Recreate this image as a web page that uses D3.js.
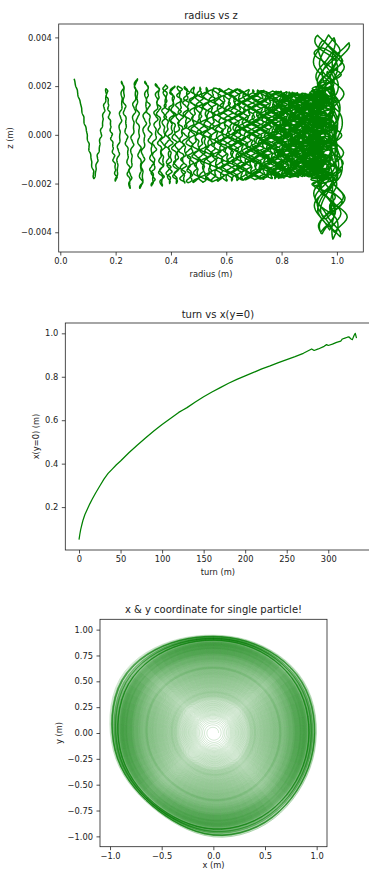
<!DOCTYPE html>
<html><head><meta charset="utf-8">
<script src="https://cdn.jsdelivr.net/npm/d3@7"></script>
<style>
body{margin:0;background:#fff}
svg{display:block}
text{font-family:"DejaVu Sans",sans-serif;fill:#222}
</style>
</head><body>
<svg id="c" width="369" height="870"></svg>
<script>
// ---------- data ----------
// turn vs x(y=0): radius where the particle crosses y=0, per turn
const turnNums = [0,1,2,3,4,5,7,10,13,16,20,25,30,35,40,45,50,60,70,80,90,100,110,120,125,130,140,150,160,170,180,190,200,210,220,230,240,250,260,270,280,283,288,295,298,300,305,310,315,317,320,323,325,327,329,331,332.5,334];
const xAtY0 = [0.05,0.075,0.096,0.112,0.128,0.142,0.165,0.19,0.215,0.237,0.265,0.297,0.329,0.355,0.375,0.395,0.412,0.45,0.485,0.518,0.55,0.58,0.608,0.636,0.647,0.658,0.684,0.708,0.73,0.75,0.77,0.788,0.804,0.82,0.836,0.85,0.865,0.879,0.893,0.908,0.928,0.921,0.928,0.94,0.948,0.944,0.95,0.958,0.964,0.974,0.978,0.982,0.984,0.975,0.971,0.99,1.0,0.978];

// shape of the outer orbit (x & y plot): radius at each angle (degrees, counter-clockwise from +x)
const orbitAngles = [0,15,30,45,60,75,90,105,120,135,150,165,180,195,210,225,240,255,270,285,300,315,330,345];
const orbitShape  = [0.985,0.995,1.0,0.98,0.955,0.94,0.93,0.945,0.975,1.015,1.04,1.01,0.98,0.965,0.935,0.915,0.92,0.955,1.0,1.01,1.01,0.995,0.985,0.985];
// how strongly the orbit departs from a circle, by radius
const ncRadius = [0, 0.3, 0.6, 0.85, 0.93, 0.97, 1.0];
const ncFactor = [0.4, 0.4, 0.45, 0.5, 0.55, 0.85, 1.0];

// vertical (z) extremes of the radius vs z trace: turn at which they occur and value (m)
const zPeakTurns = [0,3.7,7.3,11.6,14.6,18.1,21.4,24.6,27.6,31.2,34.6,38.1,41.5,45,48.4,51.9,55.3,58.8,62.2,65.7,69.1,72.6,76,79.5,82.9,86.4,89.8,93.3,96.7,100.2,103.6,107.1,110.5,114,117.4,120.9,124.3,127.8,131.2,134.7,138.1,141.6,145,148.5,151.9,155.4,158.8,162.3,165.7,169.2,172.6,176.1,179.5,183,186.4,189.9,193.3,196.8,200.2,203.7,207.1,210.6,214,217.5,220.9,224.4,227.8,231.3,234.7,238.2,241.6,245.1,248.5,252,255.4,258.9,262.3,265.8,269.2,272.7,276.1,279.6,283,286.5,289.9,293.3,296.7,300.1,303.4,306.7,309.8,312.6,315,317,318.7,320.2,321.6,322.9,324.1,325.2,326.3,327.4,328.5,329.5,330.5,331.5,332.4,333.3,334];
const zPeaks = [0.0023,-0.0018,0.0019,-0.0019,0.0022,-0.0022,0.0023,-0.0022,0.0022,-0.0021,0.0021,-0.0021,0.00205,-0.002,0.002,-0.002,0.002,-0.00198,0.00198,-0.00197,0.00196,-0.00196,0.00195,-0.00195,0.00194,-0.00193,0.00193,-0.00192,0.00192,-0.00191,0.0019,-0.0019,0.0019,-0.00189,0.00189,-0.00188,0.00188,-0.00187,0.00187,-0.00186,0.00186,-0.00185,0.00185,-0.00184,0.00184,-0.00183,0.00183,-0.00182,0.00182,-0.00181,0.00181,-0.0018,0.0018,-0.0018,0.00179,-0.00179,0.00179,-0.00178,0.00178,-0.00177,0.00177,-0.00176,0.00176,-0.00175,0.00175,-0.00174,0.00174,-0.00173,0.00173,-0.00172,0.00172,-0.00171,0.00171,-0.0017,0.0017,-0.0017,0.0017,-0.0017,0.0017,-0.0017,0.0017,-0.00172,0.00175,-0.0018,0.0018,-0.0018,0.0018,-0.0018,0.0019,-0.0019,0.002,-0.0021,0.0026,-0.0031,0.0036,-0.004,0.0041,-0.0043,0.004,-0.0041,0.0039,-0.0042,0.0041,-0.0039,0.0034,-0.004,0.0038,-0.0035,0.002];

// tick labels
const rTicks = [0,0.2,0.4,0.6,0.8,1.0];
const zTicks = [-0.004,-0.002,0,0.002,0.004];
const turnTicks = [0,50,100,150,200,250,300];
const xy0Ticks = [0.2,0.4,0.6,0.8,1.0];
const xTicks3 = [-1,-0.5,0,0.5,1];
const yTicks3 = [-1,-0.75,-0.5,-0.25,0,0.25,0.5,0.75,1];

// ---------- trajectory built from the arrays above ----------
const SPT = 72;
const tEnd = turnNums[turnNums.length-1];
const Rof = d3.scaleLinear().domain(turnNums).range(xAtY0);
const kOf = d3.scaleLinear().domain(ncRadius).range(ncFactor).clamp(true);
const shapeFn = d3.interpolateBasisClosed(orbitShape.map(v => v/orbitShape[0]));
const zOf = d3.scaleLinear().domain(zPeakTurns).range(zPeaks).clamp(true);
const traj = d3.range(0, Math.round(tEnd*SPT)+1).map(s => {
  const t = s/SPT, frac = t - Math.floor(t);
  const R = Rof(t), k = kOf(R);
  return {t, ang: frac*2*Math.PI, r: R*(1 + k*(shapeFn(frac)-1)), z: zOf(t)};
});

const svg = d3.select("#c");
const GREEN = "#008000";
function styleAxis(g){
  g.select(".domain").remove();
  g.selectAll(".tick line").attr("stroke","#222").attr("stroke-width",0.8);
  g.selectAll(".tick text").attr("font-size","8.3px").attr("fill","#222").attr("font-family","DejaVu Sans, sans-serif");
}
function frame(x0,y0,x1,y1){
  svg.append("rect").attr("x",x0).attr("y",y0).attr("width",x1-x0).attr("height",y1-y0)
    .attr("fill","none").attr("stroke","#222").attr("stroke-width",0.8);
}
function clip(id,x0,y0,x1,y1){
  svg.append("clipPath").attr("id",id).append("rect").attr("x",x0).attr("y",y0).attr("width",x1-x0).attr("height",y1-y0);
}
function title(t,cx,y){ svg.append("text").attr("x",cx).attr("y",y).attr("text-anchor","middle").attr("font-size","10px").text(t); }
function xlabel(t,cx,y){ svg.append("text").attr("x",cx).attr("y",y).attr("text-anchor","middle").attr("font-size","8.3px").text(t); }
function ylabel(t,x,cy){ svg.append("text").attr("transform",`translate(${x},${cy}) rotate(-90)`).attr("text-anchor","middle").attr("font-size","8.3px").text(t); }

// ---------- chart 1: radius vs z ----------
{
  const L=58.7,R=363.3,T=24,B=252;
  const x = d3.scaleLinear().domain([-0.0058,1.0954]).range([L,R]);
  const y = d3.scaleLinear().domain([-0.00481,0.00455]).range([B,T]);
  clip("c1",L,T,R,B);
  svg.append("path").datum(traj).attr("clip-path","url(#c1)")
    .attr("d", d3.line().x(d=>x(d.r)).y(d=>y(d.z)))
    .attr("fill","none").attr("stroke",GREEN).attr("stroke-width",1.5).attr("stroke-linejoin","round");
  frame(L,T,R,B);
  svg.append("g").attr("transform",`translate(0,${B})`).call(d3.axisBottom(x).tickValues(rTicks).tickFormat(d3.format(".1f")).tickSize(3.5).tickPadding(3)).call(styleAxis);
  svg.append("g").attr("transform",`translate(${L},0)`).call(d3.axisLeft(y).tickValues(zTicks).tickFormat(d3.format(".3f")).tickSize(3.5).tickPadding(3.5)).call(styleAxis);
  title("radius vs z",(L+R)/2,19);
  xlabel("radius (m)",(L+R)/2,277);
  ylabel("z (m)",13,(T+B)/2);
}

// ---------- chart 2: turn vs x(y=0) ----------
{
  const L=65.3,R=370.4,T=323,B=550;
  const x = d3.scaleLinear().domain([-16.5,350.7]).range([L,R]);
  const y = d3.scaleLinear().domain([0.0025,1.0475]).range([B,T]);
  const pts = turnNums.map((t,i)=>({t, v:xAtY0[i]}));
  svg.append("path").datum(pts)
    .attr("d", d3.line().x(d=>x(d.t)).y(d=>y(d.v)))
    .attr("fill","none").attr("stroke",GREEN).attr("stroke-width",1.25).attr("stroke-linejoin","round");
  frame(L,T,R,B);
  svg.append("g").attr("transform",`translate(0,${B})`).call(d3.axisBottom(x).tickValues(turnTicks).tickFormat(d3.format("d")).tickSize(3.5).tickPadding(3)).call(styleAxis);
  svg.append("g").attr("transform",`translate(${L},0)`).call(d3.axisLeft(y).tickValues(xy0Ticks).tickFormat(d3.format(".1f")).tickSize(3.5).tickPadding(3.5)).call(styleAxis);
  title("turn vs x(y=0)",(L+R)/2,318);
  xlabel("turn (m)",(L+R)/2,575);
  ylabel("x(y=0) (m)",39,(T+B)/2);
}

// ---------- chart 3: x & y coordinate ----------
{
  const L=100,R=327,T=619.3,B=846.7;
  const x = d3.scaleLinear().domain([-1.097,1.1]).range([L,R]);
  const y = d3.scaleLinear().domain([-1.1,1.1]).range([B,T]);
  clip("c3",L,T,R,B);
  const turns = d3.range(0, Math.ceil(tEnd)).map(n => traj.slice(n*SPT, (n+1)*SPT+1));
  const radial = d3.lineRadial().angle(d => Math.PI/2 - d.ang).radius(d => x(d.r) - x(0));
  const g = svg.append("g").attr("clip-path","url(#c3)").append("g").attr("transform",`translate(${x(0)},${y(0)})`);
  g.selectAll("path").data(turns).join("path")
    .attr("d", radial)
    .attr("fill","none").attr("stroke",GREEN).attr("stroke-width",0.8).attr("stroke-opacity",0.22);
  frame(L,T,R,B);
  svg.append("g").attr("transform",`translate(0,${B})`).call(d3.axisBottom(x).tickValues(xTicks3).tickFormat(d3.format(".1f")).tickSize(3.5).tickPadding(3)).call(styleAxis);
  svg.append("g").attr("transform",`translate(${L},0)`).call(d3.axisLeft(y).tickValues(yTicks3).tickFormat(d3.format(".2f")).tickSize(3.5).tickPadding(3.5)).call(styleAxis);
  title("x & y coordinate for single particle!",(L+R)/2,613);
  xlabel("x (m)",(L+R)/2,868);
  ylabel("y (m)",62,(T+B)/2);
}
</script>
</body></html>
